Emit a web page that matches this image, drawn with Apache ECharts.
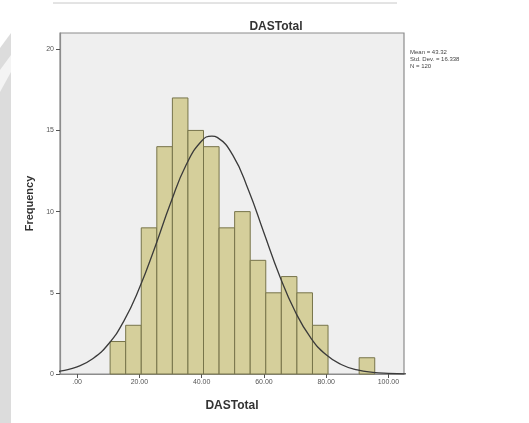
<!DOCTYPE html>
<html>
<head>
<meta charset="utf-8">
<script src="https://cdn.jsdelivr.net/npm/echarts@6/dist/echarts.min.js"></script>
<style>html,body{margin:0;padding:0;background:#fff;}#c{width:529px;height:423px;}</style>
</head>
<body>
<div id="c"></div>
<script>
// Histogram bins (lower edge of each 5-wide bin) and frequencies
var binLow = [10.6, 15.6, 20.6, 25.6, 30.6, 35.6, 40.6, 45.6, 50.6, 55.6, 60.6, 65.6, 70.6, 75.6, 90.6];
var freq   = [2, 3, 9, 14, 17, 15, 14, 9, 10, 7, 5, 6, 5, 3, 1];
var binWidth = 5;
// Normal curve
var curveX = [-6, -5, 0, 5, 10, 15, 20, 25, 30, 35, 40, 43.3, 45, 50, 55, 60, 65, 70, 75, 80, 85, 90, 95, 100, 106];
var curveY = [0.15, 0.19, 0.44, 0.94, 1.83, 3.26, 5.29, 7.81, 10.51, 12.87, 14.35, 14.65, 14.57, 13.48, 11.35, 8.70, 6.07, 3.86, 2.24, 1.18, 0.57, 0.25, 0.10, 0.04, 0.01];
var xTicks = [0, 20, 40, 60, 80, 100];
var yTicks = [0, 5, 10, 15, 20];
var statsLines = ['Mean = 43.32', 'Std. Dev. = 16.338', 'N = 120'];

var chart = echarts.init(document.getElementById('c'), null, {renderer: 'canvas'});
var FONT = 'Liberation Sans, Arial, sans-serif';
var bars = binLow.map(function (b, i) { return [b, b + binWidth, freq[i]]; });
var curve = curveX.map(function (x, i) { return [x, curveY[i]]; });

chart.setOption({
  animation: false,
  backgroundColor: '#ffffff',
  title: {
    text: 'DASTotal', left: 271, top: 16, textAlign: 'center',
    textStyle: {fontFamily: FONT, fontSize: 12, fontWeight: 'bold', color: '#333'}
  },
  grid: {
    left: 60, right: 125, top: 33, bottom: 49,
    show: true, backgroundColor: '#efefef', borderColor: '#8c8c8c', borderWidth: 1.2
  },
  xAxis: {
    type: 'value', min: -5.5, max: 105,
    name: 'DASTotal', nameLocation: 'middle', nameGap: 26,
    nameTextStyle: {fontFamily: FONT, fontSize: 12, fontWeight: 'bold', color: '#333'},
    axisLine: {show: true, onZero: false, lineStyle: {color: '#8c8c8c', width: 1.2}},
    axisTick: {show: true, length: 4, lineStyle: {color: '#555'}, customValues: xTicks},
    axisLabel: {
      customValues: xTicks, fontFamily: FONT, fontSize: 7, color: '#555', margin: 5,
      formatter: function (v) { return v === 0 ? '.00' : v.toFixed(2); }
    },
    splitLine: {show: false}
  },
  yAxis: {
    type: 'value', min: 0, max: 21,
    name: 'Frequency', nameLocation: 'middle', nameGap: 23, nameRotate: 90,
    nameTextStyle: {fontFamily: FONT, fontSize: 11, fontWeight: 'bold', color: '#333'},
    axisLine: {show: true, onZero: false, lineStyle: {color: '#8c8c8c', width: 1.2}},
    axisTick: {show: true, length: 4, lineStyle: {color: '#555'}, customValues: yTicks},
    axisLabel: {customValues: yTicks, fontFamily: FONT, fontSize: 7, color: '#555', margin: 6},
    splitLine: {show: false}
  },
  series: [
    {
      type: 'custom',
      data: bars,
      encode: {x: [0, 1], y: 2},
      renderItem: function (params, api) {
        var p0 = api.coord([api.value(0), api.value(2)]);
        var p1 = api.coord([api.value(1), 0]);
        return {
          type: 'rect',
          shape: {x: p0[0], y: p0[1], width: p1[0] - p0[0], height: p1[1] - p0[1]},
          style: {fill: '#d5cf9b', stroke: '#77744a', lineWidth: 1}
        };
      },
      z: 2
    },
    {
      type: 'line',
      data: curve,
      smooth: true,
      showSymbol: false,
      clip: true,
      lineStyle: {color: '#3a3a3a', width: 1.3},
      z: 3
    }
  ],
  graphic: [
    {type: 'line', shape: {x1: 53, y1: 3, x2: 397, y2: 3}, style: {stroke: '#c8c8c8', lineWidth: 1}},
    {type: 'polygon', shape: {points: [[0, 48], [11, 33], [11, 423], [0, 423]]}, style: {fill: '#dcdcdc'}},
    {type: 'polygon', shape: {points: [[0, 70], [11, 55], [11, 72], [0, 92]]}, style: {fill: '#f4f4f4'}},
    {
      type: 'text', left: 410, top: 49,
      style: {text: statsLines.join('\n'), font: '6px ' + FONT, fill: '#444', lineHeight: 7}
    }
  ]
});
</script>
</body>
</html>
